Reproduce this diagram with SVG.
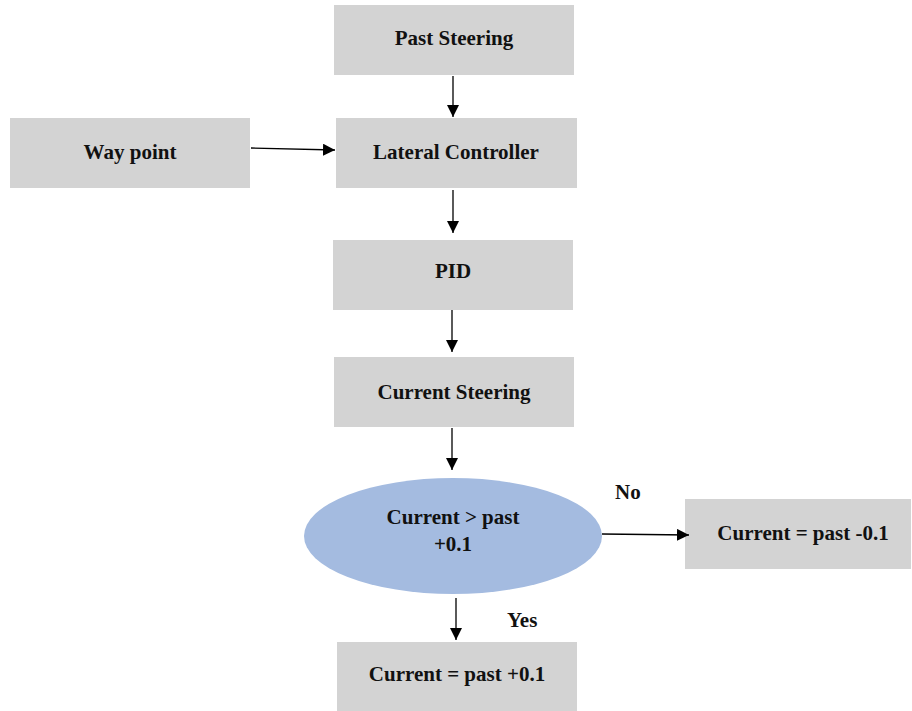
<svg xmlns="http://www.w3.org/2000/svg" width="912" height="711" viewBox="0 0 912 711">
<defs>
<style>
.box{fill:#d3d3d3;}
.t{font-family:"Liberation Serif","Times New Roman",serif;font-weight:bold;font-size:21px;fill:#111;text-anchor:middle;}
.lbl{font-family:"Liberation Serif","Times New Roman",serif;font-weight:bold;font-size:21px;fill:#111;}
.c{stroke:#000;stroke-width:1.3;fill:none;marker-end:url(#ah);}
</style>
<marker id="ah" viewBox="0 0 10 10" refX="10" refY="5" markerWidth="12" markerHeight="12" markerUnits="userSpaceOnUse" orient="auto">
<path d="M0,0 L10,5 L0,10 z" fill="#000"/>
</marker>
</defs>
<rect width="912" height="711" fill="#fff"/>
<g id="past-steering"><rect class="box" x="334" y="5" width="240" height="70"/><text class="t" x="454" y="45">Past Steering</text></g>
<g id="way-point"><rect class="box" x="10" y="118" width="240" height="70"/><text class="t" x="130" y="159">Way point</text></g>
<g id="lateral-controller"><rect class="box" x="336" y="118" width="241" height="70"/><text class="t" x="456" y="159">Lateral Controller</text></g>
<g id="pid"><rect class="box" x="333" y="240" width="240" height="70"/><text class="t" x="453" y="278">PID</text></g>
<g id="current-steering"><rect class="box" x="334" y="357" width="240" height="70"/><text class="t" x="454" y="399">Current Steering</text></g>
<g id="decision"><ellipse cx="453" cy="536" rx="149" ry="58" fill="#a4bbe0"/><text class="t" x="453" y="524">Current &gt; past</text><text class="t" x="453" y="551">+0.1</text></g>
<g id="minus"><rect class="box" x="685" y="499" width="226" height="70"/><text class="t" x="803" y="540">Current = past -0.1</text></g>
<g id="plus"><rect class="box" x="337" y="642" width="240" height="69"/><text class="t" x="457" y="681">Current = past +0.1</text></g>
<g id="connectors">
<line class="c" x1="453" y1="76" x2="453" y2="117"/>
<line class="c" x1="251" y1="148" x2="335" y2="150"/>
<line class="c" x1="453" y1="190" x2="453" y2="233"/>
<line class="c" x1="452" y1="310" x2="452" y2="352"/>
<line class="c" x1="452" y1="428" x2="452" y2="470"/>
<line class="c" x1="602" y1="534" x2="689" y2="535"/>
<line class="c" x1="456" y1="598" x2="456" y2="640"/>
<text class="lbl" x="615" y="499">No</text>
<text class="lbl" x="507" y="627">Yes</text>
</g>
</svg>
